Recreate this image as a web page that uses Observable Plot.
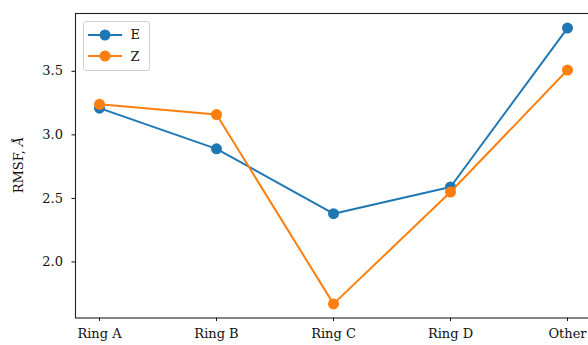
<!DOCTYPE html>
<html>
<head>
<meta charset="utf-8">
<script src="https://cdn.jsdelivr.net/npm/d3@7"></script>
<script src="https://cdn.jsdelivr.net/npm/@observablehq/plot@0.6"></script>
<style>
  html, body { margin: 0; padding: 0; background: white; overflow: hidden; }
  #wrap { position: relative; width: 588px; height: 345px; }
  .legend { position: absolute; left: 82.5px; top: 20.5px; width: 67px; height: 50px;
    border: 1px solid #d0d0d0; border-radius: 3px; background: rgba(255,255,255,0.8);
    font-family: "DejaVu Serif", serif; font-size: 13px; color: #111; box-sizing: border-box; }
  .legend .item { position: absolute; left: 4px; height: 20px; display: flex; align-items: center; }
  .legend svg { display: block; }
  .legend span { margin-left: 9px; }
</style>
</head>
<body>
<div id="wrap"></div>
<script>
const categories = ["Ring A", "Ring B", "Ring C", "Ring D", "Other"];
const seriesNames = ["E", "Z"];
const eValues = [3.21, 2.89, 2.38, 2.59, 3.84];
const zValues = [3.24, 3.16, 1.67, 2.55, 3.51];
const yTicks = [2.0, 2.5, 3.0, 3.5];
const colors = ["#1f77b4", "#ff7f0e"];

const data = [];
[eValues, zValues].forEach((vals, si) => {
  vals.forEach((v, i) => data.push({series: seriesNames[si], cat: categories[i], value: v}));
});

const font = "DejaVu Serif, serif";
const plot = Plot.plot({
  width: 588,
  height: 345,
  marginLeft: 75,
  marginRight: -3.5,
  marginTop: 13,
  marginBottom: 27.5,
  style: {fontFamily: font, fontSize: "13px", color: "#111", overflow: "visible"},
  x: {type: "point", domain: categories, padding: 0.2},
  y: {domain: [1.559, 3.955]},
  color: {domain: seriesNames, range: colors},
  marks: [
    Plot.axisX({tickSize: 3.5, tickPadding: 7, label: null, fontSize: 13, stroke: "#111"}),
    Plot.axisY({ticks: yTicks, tickFormat: d3.format(".1f"), tickSize: 3.5, tickPadding: 9, label: null, fontSize: 13, stroke: "#111"}),
    ...seriesNames.flatMap(s => [
      Plot.line(data.filter(d => d.series === s), {x: "cat", y: "value", stroke: "series", strokeWidth: 2}),
      Plot.dot(data.filter(d => d.series === s), {x: "cat", y: "value", fill: "series", r: 5.5})
    ]),
    Plot.frame({stroke: "#222", strokeWidth: 1.1})
  ]
});

const svg = d3.select(plot);
const lbl = svg.append("text")
  .attr("transform", "translate(23,165) rotate(-90)")
  .attr("text-anchor", "middle")
  .attr("font-family", font)
  .attr("font-size", 13)
  .attr("fill", "#111");
lbl.append("tspan").text("RMSF, ");
lbl.append("tspan").attr("font-style", "italic").text("Å");

const wrap = document.getElementById("wrap");
wrap.appendChild(plot);

const legend = document.createElement("div");
legend.className = "legend";
seriesNames.forEach((s, i) => {
  const item = document.createElement("div");
  item.className = "item";
  item.style.top = (3 + i * 21.5) + "px";
  item.innerHTML = `<svg width="34" height="14"><line x1="0" x2="34" y1="7" y2="7" stroke="${colors[i]}" stroke-width="2"/><circle cx="17" cy="7" r="5.5" fill="${colors[i]}"/></svg><span>${s}</span>`;
  legend.appendChild(item);
});
wrap.appendChild(legend);
</script>
</body>
</html>
